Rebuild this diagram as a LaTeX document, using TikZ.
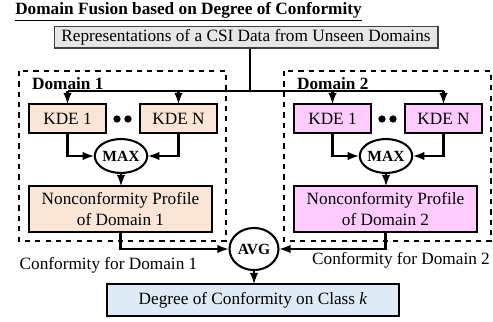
\documentclass[tikz,border=0pt]{standalone}
\usepackage{fontspec}
\setmainfont{Liberation Serif}
\usepackage{tikz}
\usetikzlibrary{arrows, shapes.geometric, positioning}
\definecolor{repgray}{HTML}{E7E6E6}
\definecolor{peach}{HTML}{FBE5D6}
\definecolor{orchid}{HTML}{FFCCFF}
\definecolor{paleblue}{HTML}{DEEBF7}
\tikzstyle{box}=[rectangle, draw, line width=1.5pt, inner sep=0pt, outer sep=0pt]
\tikzstyle{kde}=[box, minimum width=44.7pt, minimum height=16.8pt]
\tikzstyle{ncp}=[box, minimum width=106pt, minimum height=26.7pt, align=center]
\tikzstyle{op}=[ellipse, draw, line width=1.2pt, inner sep=0pt, font=\small\bfseries, fill=white]
\tikzstyle{conn}=[line width=1.2pt]
\tikzstyle{dombox}=[dashed, line width=1pt]

\begin{document}
\begin{tikzpicture}[x=0.58pt, y=-0.58pt]
		\useasboundingbox (0,0) rectangle (493,322);
		\node[font=\bfseries] (title) at (188.5,12) {\underline{Domain Fusion based on Degree of Conformity}};
		\node[draw=darkgray, fill=repgray, line width=0.6pt, minimum width=222.7pt, minimum height=12.2pt, inner sep=0pt] (rep) at (246,37.5) {Representations of a CSI Data from Unseen Domains};
		\coordinate (bus) at (250,91);
		\foreach \d/\xo/\col in {1/0/peach, 2/265/orchid}{
			\draw[dombox] (19+\xo,71) rectangle (226+\xo,241);
			\node[font=\bfseries, anchor=west] (dlab\d) at (26+\xo,84) {Domain \d};
			\node[kde, fill=\col] (kdeA\d) at (67.5+\xo,118.5) {KDE 1};
			\node[kde, fill=\col] (kdeN\d) at (178.5+\xo,118.5) {KDE N};
			\fill (117+\xo,119) circle (2.1pt) (128+\xo,119) circle (2.1pt);
			\node[op, minimum width=27.8pt, minimum height=19.7pt] (max\d) at (121+\xo,156) {MAX};
			\node[ncp, fill=\col] (ncp\d) at (120.5+\xo,209) {Nonconformity Profile\\of Domain \d};
			\draw[conn, -latex] (kdeA\d |- bus) -- (kdeA\d);
			\draw[conn, -latex] (kdeN\d |- bus) -- (kdeN\d);
			\draw[conn, -latex] (kdeA\d) |- (max\d);
			\draw[conn, -latex] (kdeN\d) |- (max\d);
			\draw[conn, -latex] (max\d.south) -- (max\d.south |- ncp\d.north);
		}
		\draw[conn] (rep.south -| bus) -- (bus);
		\draw[conn] (kdeA1 |- bus) -- (kdeN2 |- bus);
		\node[op, minimum width=28.4pt, minimum height=24.4pt] (avg) at (254,249) {AVG};
		\draw[conn, -latex] (ncp1.south) |- (avg.west);
		\draw[conn, -latex] (ncp2.south) |- (avg.east);
		\node (conf1) at (108.5,265) {Conformity for Domain 1};
		\node (conf2) at (401,260) {Conformity for Domain 2};
		\node[box, fill=paleblue, minimum width=169.4pt, minimum height=18.6pt] (doc) at (253,300) {Degree of Conformity on Class \textit{k}};
		\draw[conn, -latex] (avg.south) -- (avg.south |- doc.north);
	\end{tikzpicture}
\end{document}
